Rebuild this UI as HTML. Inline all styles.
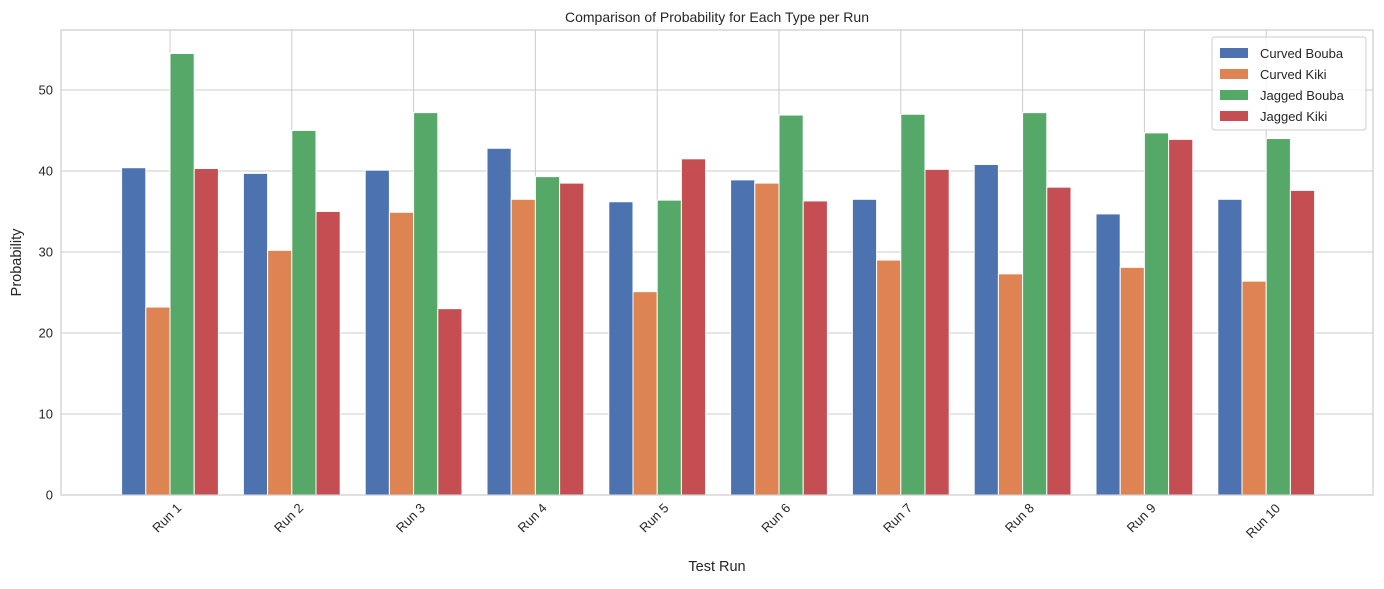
<!DOCTYPE html>
<html><head><meta charset="utf-8">
<style>
body{margin:0;background:#fff;font-family:"Liberation Sans","DejaVu Sans",sans-serif;}
svg text{font-family:"Liberation Sans","DejaVu Sans",sans-serif;fill:#262626;}
</style></head>
<body>
<svg id="chart" width="1384" height="584" xmlns="http://www.w3.org/2000/svg">
<rect width="1384" height="584" fill="#fff"/>
<g id="grid"></g>
<g id="bars"></g>
<g id="axes"></g>
<g id="legend"></g>
</svg>
<script>
const categories = ["Run 1","Run 2","Run 3","Run 4","Run 5","Run 6","Run 7","Run 8","Run 9","Run 10"];
const seriesNames = ["Curved Bouba","Curved Kiki","Jagged Bouba","Jagged Kiki"];
const curvedBouba = [40.4,39.7,40.1,42.8,36.2,38.9,36.5,40.8,34.7,36.5];
const curvedKiki = [23.2,30.2,34.9,36.5,25.1,38.5,29.0,27.3,28.1,26.4];
const jaggedBouba = [54.5,45.0,47.2,39.3,36.4,46.9,47.0,47.2,44.7,44.0];
const jaggedKiki = [40.3,35.0,23.0,38.5,41.5,36.3,40.2,38.0,43.9,37.6];
const yTicks = [0,10,20,30,40,50];

const series=[curvedBouba,curvedKiki,jaggedBouba,jaggedKiki];
const colors=["#4c72b0","#dd8452","#55a868","#c44e52"];
const L=61,R=1373,T=30,B=495,yMax=57.4;
const step=121.8,first=170,bw=24.2;
const xc=i=>first+i*step;
const y=v=>B-(v/yMax)*(B-T);
const NS="http://www.w3.org/2000/svg";
function mk(tag,attrs,parent){const e=document.createElementNS(NS,tag);for(const k in attrs)e.setAttribute(k,attrs[k]);parent.appendChild(e);return e;}
const grid=document.getElementById('grid'),bars=document.getElementById('bars'),axes=document.getElementById('axes'),legend=document.getElementById('legend');
mk('rect',{x:L,y:T,width:R-L,height:B-T,fill:'#fff'},grid);
yTicks.forEach(t=>{
  const l=mk('line',{x1:L,x2:R,y1:y(t),y2:y(t),stroke:'#cccccc','stroke-width':1},grid);
  
  
  const tx=mk('text',{x:L-8,y:y(t)+4.5,'text-anchor':'end','font-size':13},axes);
  tx.textContent=t;
  
  
});
categories.forEach((c,i)=>{
  const l=mk('line',{x1:xc(i),x2:xc(i),y1:T,y2:B,stroke:'#cccccc','stroke-width':1},grid);
  
  
  const w=c.length>5?18:15;
  const tx=mk('text',{x:0,y:0,'text-anchor':'middle','font-size':13,transform:`translate(${xc(i)},${B+11+w}) rotate(-45)`},axes);
  tx.textContent=c;
  
  
});
series.forEach((s,k)=>{
  s.forEach((v,i)=>{
    const x=xc(i)+(k-2)*bw;
    const r=mk('rect',{x:x,y:y(v),width:bw,height:B-y(v),fill:colors[k],stroke:'#fff','stroke-width':1},bars);
    
    
  });
});
const frame=mk('rect',{x:L,y:T,width:R-L,height:B-T,fill:'none',stroke:'#cccccc','stroke-width':1.2},axes);


const title=mk('text',{x:(L+R)/2,y:22,'text-anchor':'middle','font-size':14},axes);
title.textContent='Comparison of Probability for Each Type per Run';


const xt=mk('text',{x:(L+R)/2,y:571,'text-anchor':'middle','font-size':14.5},axes);
xt.textContent='Test Run';


const yt=mk('text',{x:0,y:0,'text-anchor':'middle','font-size':14.5,transform:`translate(21,${(T+B)/2}) rotate(-90)`},axes);
yt.textContent='Probability';


const lb=mk('rect',{x:1212,y:37,width:154,height:93,rx:3,fill:'#fff','fill-opacity':0.8,stroke:'#cccccc'},legend);


seriesNames.forEach((n,k)=>{
  const g=mk('g',{},legend);
  
  
  const yy=48+k*21;
  mk('rect',{x:1220,y:yy,width:28,height:10,fill:colors[k]},g);
  const t=mk('text',{x:1260,y:yy+10,'font-size':13},g);
  t.textContent=n;
});
</script>
</body></html>
